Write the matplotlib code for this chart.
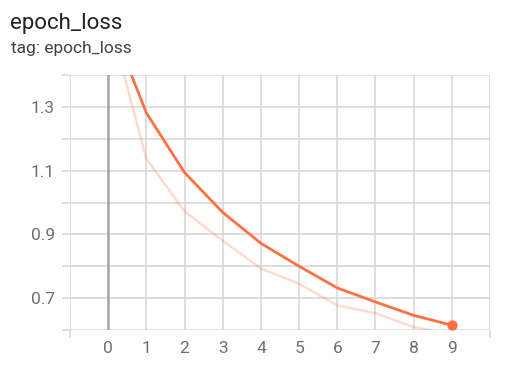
import matplotlib
matplotlib.use("Agg")
import matplotlib.pyplot as plt
from matplotlib.ticker import FixedLocator, NullFormatter

plt.rcParams["font.family"] = ["Roboto", "DejaVu Sans"]

# values
EPOCHS = [0, 1, 2, 3, 4, 5, 6, 7, 8, 9]
LOSS_RAW = [1.585, 1.138, 0.972, 0.880, 0.793, 0.745, 0.677, 0.653, 0.609, 0.585]
LOSS_SMOOTH = [1.585, 1.281, 1.094, 0.969, 0.872, 0.800, 0.732, 0.688, 0.646, 0.615]

X_LABELED = [0, 1, 2, 3, 4, 5, 6, 7, 8, 9]
X_EDGES = [-1, 10]
Y_LABELED = [0.7, 0.9, 1.1, 1.3]
Y_MINOR = [0.6, 0.8, 1.0, 1.2, 1.4]

ORANGE = "#ff7043"
GRID = "#d6d6d6"
TICK_TXT = "#707070"

fig = plt.figure(figsize=(5.3, 3.74), dpi=100)
ax = fig.add_axes([0.1321, 0.1176, 0.7925, 0.6818])

ax.plot(EPOCHS, LOSS_RAW, color=ORANGE, alpha=0.25, lw=1.8, zorder=3)
ax.plot(EPOCHS, LOSS_SMOOTH, color=ORANGE, lw=2.0, zorder=4)
ax.scatter([EPOCHS[-1]], [LOSS_SMOOTH[-1]], s=55, color=ORANGE, zorder=5,
           clip_on=False, linewidths=0)
ax.axvline(0, color="#a8a8a8", lw=1.8, zorder=2)

ax.set_xlim(-1, 10)
ax.set_ylim(0.6, 1.4)

ax.xaxis.set_major_locator(FixedLocator(X_LABELED))
ax.xaxis.set_minor_locator(FixedLocator(X_EDGES))
ax.yaxis.set_major_locator(FixedLocator(Y_LABELED))
ax.yaxis.set_minor_locator(FixedLocator(Y_MINOR))
ax.set_xticklabels([str(v) for v in X_LABELED])
ax.set_yticklabels([f"{v:.1f}" for v in Y_LABELED])
ax.yaxis.set_minor_formatter(NullFormatter())

ax.tick_params(axis="x", which="major", length=0, pad=8, labelsize=12.5, labelcolor=TICK_TXT)
ax.tick_params(axis="x", which="minor", length=5.5, width=1.1, color=GRID)
ax.tick_params(axis="y", which="both", length=6, width=1.1, color=GRID,
               pad=5, labelsize=12.5, labelcolor=TICK_TXT)

ax.grid(True, which="both", color=GRID, lw=1.1, zorder=1)
ax.set_axisbelow(True)
for s in ax.spines.values():
    s.set_visible(False)

fig.text(0.019, 0.922, "epoch_loss", fontsize=16, color="#212121", va="baseline")
fig.text(0.021, 0.858, "tag: epoch_loss", fontsize=12.5, color="#424242", va="baseline")

fig.savefig("out.png", dpi=100)
